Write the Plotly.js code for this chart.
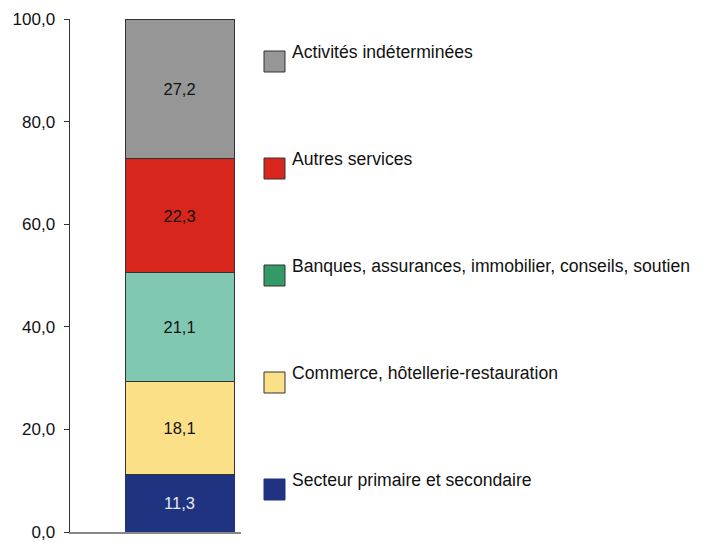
<!DOCTYPE html>
<html>
<head>
<meta charset="utf-8">
<script src="https://cdn.plot.ly/plotly-3.0.1.min.js"></script>
<style>html,body{margin:0;padding:0;background:#fff}#chart{width:704px;height:542px}</style>
</head>
<body>
<div id="chart"></div>
<script>
// Data (stack order bottom -> top)
const category = ['Total'];
const seriesNames = [
  'Secteur primaire et secondaire',
  'Commerce, hôtellerie-restauration',
  'Banques, assurances, immobilier, conseils, soutien',
  'Autres services',
  'Activités indéterminées'
];
const seriesValues = [11.3, 18.1, 21.1, 22.3, 27.2];
const barColors = ['#1f3380', '#fbe088', '#80c8b1', '#d9261c', '#969696'];
const legendColors = ['#1f3380', '#fbe088', '#339966', '#d9261c', '#969696'];
const labelColors = ['#e6e8f2', '#111111', '#111111', '#111111', '#111111'];
const yTickVals = [0, 20, 40, 60, 80, 100];

const traces = seriesNames.map((name, i) => ({
  type: 'bar',
  name: name,
  x: category,
  y: [seriesValues[i]],
  marker: {color: barColors[i], line: {color: i === 0 ? barColors[0] : '#333333', width: 1}},
  text: [seriesValues[i]],
  texttemplate: '%{y:.1f}',
  textposition: 'inside',
  insidetextanchor: 'middle',
  textangle: 0,
  textfont: {family: '"Liberation Sans Narrow", "Arial Narrow", "Liberation Sans", Arial, sans-serif', size: 16.5, color: labelColors[i]},
  hoverinfo: 'skip',
  showlegend: false
}));

// plot area geometry (pixels) used to place the legend
const L = 70, R = 463, T = 19, B = 10, W = 704, H = 542;
const pw = W - L - R, ph = H - T - B;
const px = v => (v - L) / pw;
const py = v => (H - B - v) / ph;

const shapes = [];
const annotations = [];
// legend listed top -> bottom (reverse of stack order)
for (let k = 0; k < seriesNames.length; k++) {
  const i = seriesNames.length - 1 - k;
  const top = 51 + 107 * k;
  shapes.push({
    type: 'rect', xref: 'paper', yref: 'paper',
    x0: px(264), x1: px(285), y0: py(top + 21), y1: py(top),
    fillcolor: legendColors[i],
    line: {color: i === 0 ? legendColors[0] : '#333333', width: 1}
  });
  annotations.push({
    xref: 'paper', yref: 'paper', x: px(290), y: py(top + 1),
    xanchor: 'left', yanchor: 'middle', showarrow: false,
    text: seriesNames[i],
    font: {family: '"Liberation Sans", Arial, sans-serif', size: 17.6, color: '#111111'}
  });
}

const layout = {
  width: W, height: H,
  margin: {l: L, r: R, t: T, b: B, pad: 0},
  paper_bgcolor: '#ffffff', plot_bgcolor: '#ffffff',
  barmode: 'stack', bargap: 0,
  separators: ',.',
  showlegend: false,
  font: {family: '"Liberation Sans", Arial, sans-serif', size: 17, color: '#111111'},
  xaxis: {
    range: [-1.0046, 0.564], showticklabels: false, ticks: '',
    showgrid: false, zeroline: false, showline: true, linecolor: '#888888', linewidth: 2,
    fixedrange: true
  },
  yaxis: {
    range: [0, 100], tickvals: yTickVals, tickformat: '.1f',
    ticks: 'outside', ticklen: 5, tickcolor: '#333333', tickwidth: 1,
    ticklabelstandoff: 5, ticklabeloverflow: 'allow',
    showgrid: false, zeroline: false, showline: true, linecolor: '#333333', linewidth: 1.5,
    tickfont: {family: '"Liberation Sans", Arial, sans-serif', size: 17, color: '#111111'},
    fixedrange: true
  },
  yaxis2: {
    overlaying: 'y', side: 'left', range: [0, 100], tickvals: yTickVals,
    ticks: 'inside', ticklen: 6, tickcolor: '#333333', tickwidth: 1,
    showticklabels: false, showgrid: false, zeroline: false, showline: false,
    fixedrange: true
  },
  shapes: shapes,
  annotations: annotations
};

Plotly.newPlot('chart', traces, layout, {displayModeBar: false, staticPlot: true});
</script>
</body>
</html>
